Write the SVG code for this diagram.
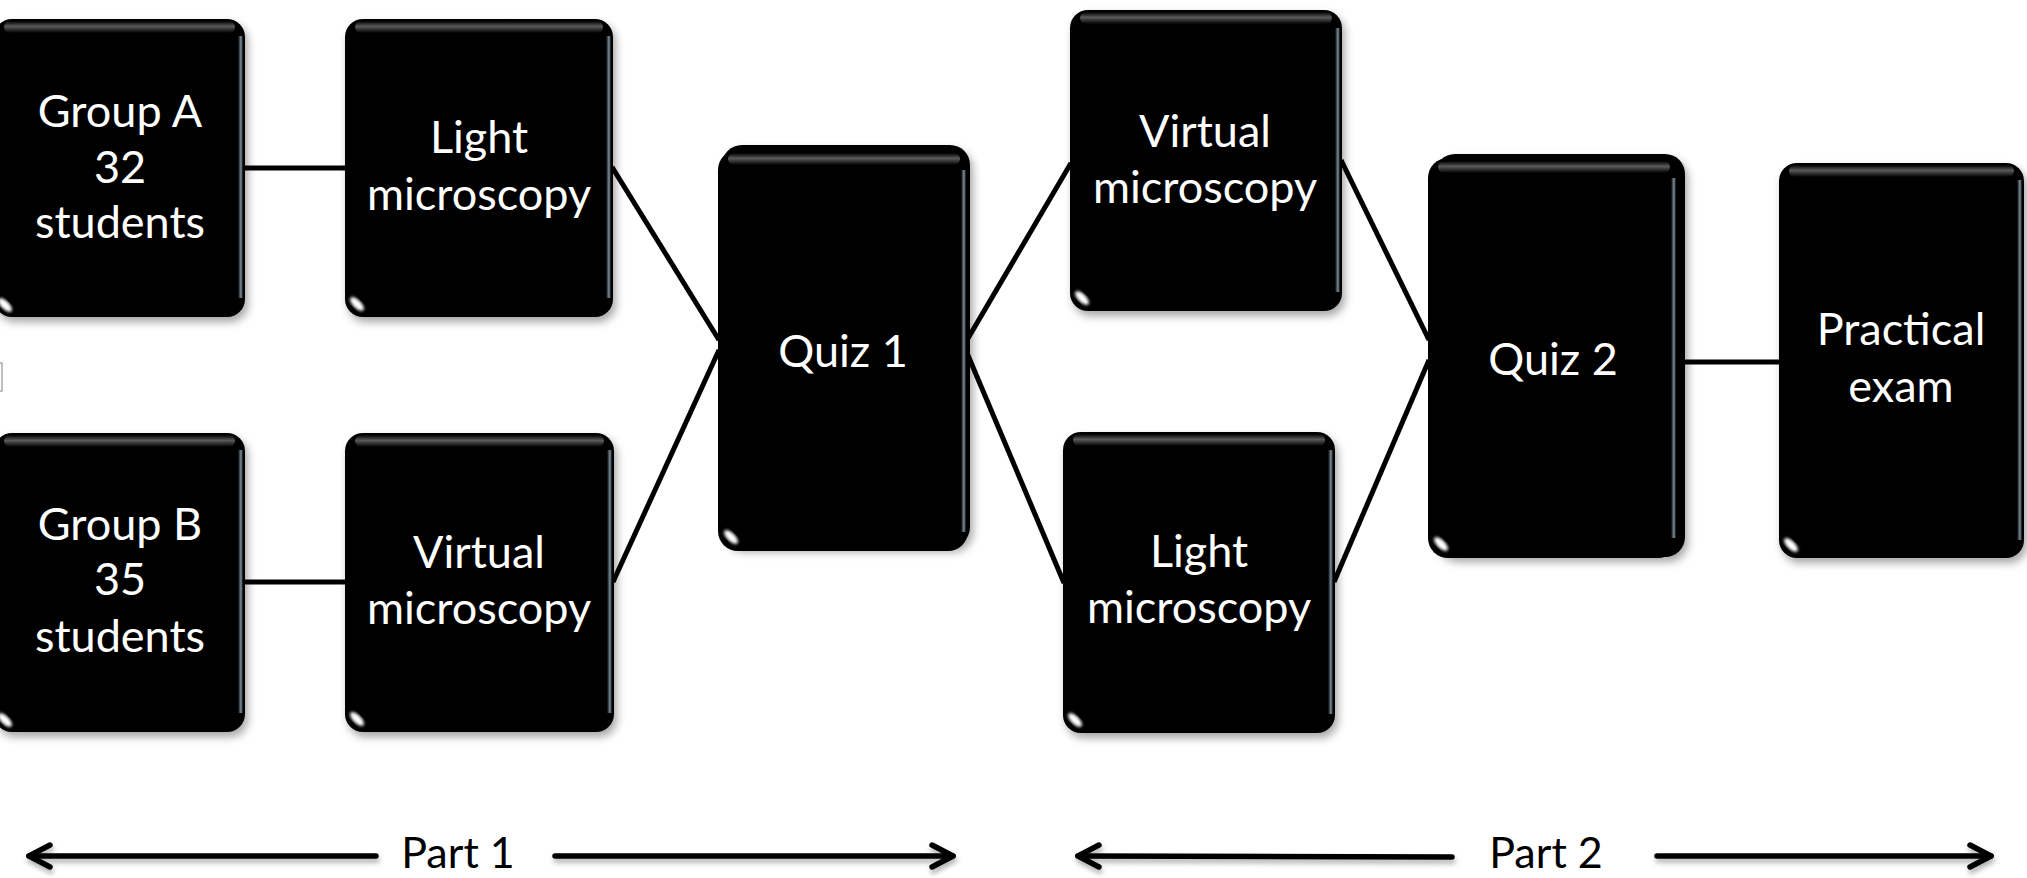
<svg xmlns="http://www.w3.org/2000/svg" width="2027" height="878" viewBox="0 0 2027 878">
<defs>
  <filter id="sh" x="-10%" y="-10%" width="125%" height="125%">
    <feDropShadow dx="3" dy="5" stdDeviation="4" flood-color="#000" flood-opacity="0.35"/>
  </filter>
  <filter id="lsh" x="-5%" y="-100%" width="110%" height="300%">
    <feDropShadow dx="1" dy="4" stdDeviation="2.5" flood-color="#000" flood-opacity="0.3"/>
  </filter>
  <filter id="blur2"><feGaussianBlur stdDeviation="1.6"/></filter>
  <linearGradient id="topg" x1="0" y1="0" x2="0" y2="1">
    <stop offset="0" stop-color="#000"/>
    <stop offset="0.45" stop-color="#5a5a5a"/>
    <stop offset="1" stop-color="#000"/>
  </linearGradient>
  <linearGradient id="edg" x1="0" y1="0" x2="1" y2="0">
    <stop offset="0" stop-color="#000"/>
    <stop offset="0.6" stop-color="#9fb4c4"/>
    <stop offset="1" stop-color="#000"/>
  </linearGradient>
</defs>
<style>
  .box{fill:#000}
  .back{fill:#050505}
  .band{fill:url(#topg)}
  .edge{fill:url(#edg);opacity:0.8}
  .spot{fill:#fff;filter:url(#blur2)}
  .t{font-family:Lato,"Open Sans","Liberation Sans",sans-serif;font-size:45px;fill:#fff;text-anchor:middle}
  .p{font-family:Lato,"Open Sans","Liberation Sans",sans-serif;font-size:43px;fill:#000;text-anchor:middle}
  .c{stroke:#000;stroke-width:5;fill:none;stroke-linecap:butt}
  .a{stroke:#000;stroke-width:5.5;fill:none;stroke-linecap:round;stroke-linejoin:round}
</style>
<rect x="-2" y="363" width="4" height="28" fill="none" stroke="#aaa" stroke-width="1.5"/>
<g id="connectors">
  <line class="c" x1="245" y1="168" x2="345" y2="168"/>
  <line class="c" x1="245" y1="582" x2="345" y2="582"/>
  <line class="c" x1="612" y1="167" x2="719" y2="340"/>
  <line class="c" x1="613" y1="582" x2="719" y2="350"/>
  <line class="c" x1="967" y1="340" x2="1071" y2="163"/>
  <line class="c" x1="967" y1="353" x2="1064" y2="583"/>
  <line class="c" x1="1341" y1="160" x2="1429" y2="340"/>
  <line class="c" x1="1334" y1="582" x2="1429" y2="360"/>
  <line class="c" x1="1680" y1="362" x2="1780" y2="362"/>
</g>
<g id="groupA">
  <rect class="box" x="-6" y="19" width="251" height="298" rx="18" filter="url(#sh)"/>
  <rect class="band" x="4" y="21" width="231" height="12" rx="6"/>
  <rect class="edge" x="238" y="36" width="5" height="262"/>
  <ellipse class="spot" cx="5" cy="305" rx="9" ry="4" transform="rotate(45 5 305)"/>
  <text class="t" x="120" y="127">Group A</text>
  <text class="t" x="120" y="183">32</text>
  <text class="t" x="120" y="238">students</text>
</g>
<g id="light1">
  <rect class="box" x="345" y="19" width="268" height="298" rx="18" filter="url(#sh)"/>
  <rect class="band" x="355" y="21" width="248" height="12" rx="6"/>
  <rect class="edge" x="606" y="36" width="5" height="262"/>
  <ellipse class="spot" cx="357" cy="304" rx="9" ry="4" transform="rotate(45 357 304)"/>
  <text class="t" x="479" y="153">Light</text>
  <text class="t" x="479" y="210">microscopy</text>
</g>
<g id="groupB">
  <rect class="box" x="-6" y="433" width="251" height="299" rx="18" filter="url(#sh)"/>
  <rect class="band" x="4" y="435" width="231" height="12" rx="6"/>
  <rect class="edge" x="238" y="450" width="5" height="263"/>
  <ellipse class="spot" cx="5" cy="720" rx="9" ry="4" transform="rotate(45 5 720)"/>
  <text class="t" x="120" y="540">Group B</text>
  <text class="t" x="120" y="595">35</text>
  <text class="t" x="120" y="652">students</text>
</g>
<g id="virtual1">
  <rect class="box" x="345" y="433" width="269" height="299" rx="18" filter="url(#sh)"/>
  <rect class="band" x="355" y="435" width="249" height="12" rx="6"/>
  <rect class="edge" x="607" y="450" width="5" height="263"/>
  <ellipse class="spot" cx="357" cy="719" rx="9" ry="4" transform="rotate(45 357 719)"/>
  <text class="t" x="479" y="568">Virtual</text>
  <text class="t" x="479" y="624">microscopy</text>
</g>
<g id="quiz1">
  <rect class="back" x="722" y="145" width="248" height="402" rx="20" filter="url(#sh)"/>
  <rect class="box" x="718" y="150" width="250" height="401" rx="20"/>
  <rect class="band" x="728" y="153" width="232" height="12" rx="6"/>
  <rect class="edge" x="961" y="170" width="5" height="362"/>
  <ellipse class="spot" cx="731" cy="537" rx="9" ry="4" transform="rotate(45 731 537)"/>
  <text class="t" x="843" y="367">Quiz 1</text>
</g>
<g id="virtual2">
  <rect class="box" x="1070" y="10" width="272" height="301" rx="18" filter="url(#sh)"/>
  <rect class="band" x="1080" y="12" width="252" height="12" rx="6"/>
  <rect class="edge" x="1335" y="28" width="5" height="264"/>
  <ellipse class="spot" cx="1082" cy="298" rx="9" ry="4" transform="rotate(45 1082 298)"/>
  <text class="t" x="1205" y="147">Virtual</text>
  <text class="t" x="1205" y="203">microscopy</text>
</g>
<g id="light2">
  <rect class="box" x="1063" y="432" width="272" height="301" rx="18" filter="url(#sh)"/>
  <rect class="band" x="1073" y="434" width="252" height="12" rx="6"/>
  <rect class="edge" x="1328" y="450" width="5" height="264"/>
  <ellipse class="spot" cx="1075" cy="720" rx="9" ry="4" transform="rotate(45 1075 720)"/>
  <text class="t" x="1199" y="567">Light</text>
  <text class="t" x="1199" y="623">microscopy</text>
</g>
<g id="quiz2">
  <rect class="back" x="1435" y="154" width="250" height="403" rx="20" filter="url(#sh)"/>
  <rect class="box" x="1428" y="158" width="250" height="400" rx="20"/>
  <rect class="band" x="1438" y="161" width="232" height="12" rx="6"/>
  <rect class="edge" x="1671" y="178" width="5" height="360"/>
  <ellipse class="spot" cx="1441" cy="544" rx="9" ry="4" transform="rotate(45 1441 544)"/>
  <text class="t" x="1553" y="375">Quiz 2</text>
</g>
<g id="practical">
  <rect class="box" x="1779" y="163" width="245" height="395" rx="18" filter="url(#sh)"/>
  <rect class="band" x="1789" y="165" width="225" height="12" rx="6"/>
  <rect class="edge" x="2017" y="180" width="5" height="360"/>
  <ellipse class="spot" cx="1791" cy="545" rx="9" ry="4" transform="rotate(45 1791 545)"/>
  <text class="t" x="1901" y="345">Practical</text>
  <text class="t" x="1901" y="402">exam</text>
</g>
<g id="parts" filter="url(#lsh)">
  <line class="a" x1="29" y1="856" x2="376" y2="856"/>
  <path class="a" d="M50,845 L29,856 L50,867"/>
  <line class="a" x1="555" y1="856" x2="953" y2="856"/>
  <path class="a" d="M932,845 L953,856 L932,867"/>
  <line class="a" x1="1078" y1="856" x2="1452" y2="857"/>
  <path class="a" d="M1099,845 L1078,856 L1099,867"/>
  <line class="a" x1="1657" y1="856" x2="1991" y2="856"/>
  <path class="a" d="M1970,845 L1991,856 L1970,867"/>
</g>
<text class="p" x="458" y="868">Part 1</text>
<text class="p" x="1546" y="868">Part 2</text>
</svg>
